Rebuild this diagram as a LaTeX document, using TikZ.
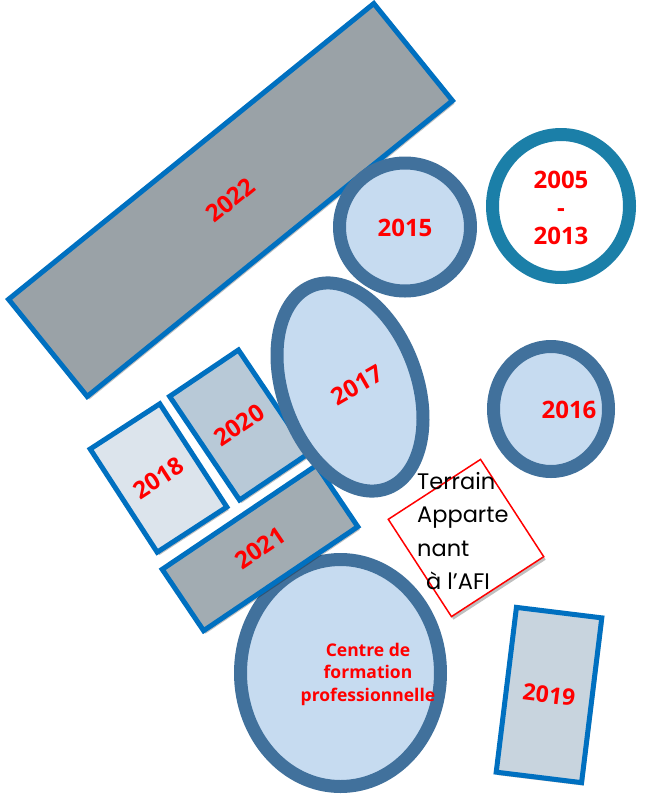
\documentclass[tikz,border=0pt]{standalone}
\usepackage{fontspec}
\setmainfont{Open Sans}
\newfontfamily\terrainfont{Poppins}
\usetikzlibrary{shapes.geometric,shadows}
\definecolor{rectblue}{HTML}{0070C0}
\definecolor{ringblue}{HTML}{41719C}
\definecolor{ringteal}{HTML}{1B7FA8}
\definecolor{circfill}{HTML}{C6DBF0}
\definecolor{fillA}{HTML}{9AA2A7}
\definecolor{fillB}{HTML}{DCE4EC}
\definecolor{fillC}{HTML}{B8C9D7}
\definecolor{fillD}{HTML}{A2ACB2}
\definecolor{fillE}{HTML}{C8D4DE}
\begin{document}
\begin{tikzpicture}[x=1pt,y=-1pt,
  softshadow/.style={drop shadow={shadow xshift=2pt,shadow yshift=-3pt,opacity=0.25,fill=black}},
  plot/.style={rectangle, draw=rectblue, line width=5pt, inner sep=0pt, text=red,
    font=\bfseries\fontsize{24}{28}\selectfont, softshadow},
  ring/.style={ellipse, draw=ringblue, line width=13pt, fill=circfill, inner sep=0pt, softshadow},
  yearlabel/.style={text=red, inner sep=0pt, font=\bfseries\fontsize{24}{28}\selectfont},
]
\useasboundingbox (0,0) rectangle (646,796);

% rectangles
\node[plot, fill=fillA, minimum width=470pt, minimum height=125pt, rotate=39] (p2022) at (230.5,200) {2022};
\node[plot, fill=fillB, minimum width=83pt, minimum height=123pt, rotate=33] (p2018) at (158.5,478) {2018};
\node[plot, fill=fillC, minimum width=83pt, minimum height=125pt, rotate=34] (p2020) at (239,425) {2020};

% centre de formation
\node[ring, minimum width=200pt, minimum height=227pt] (centre) at (340.5,673) {};
\node[yearlabel, align=center, font=\bfseries\fontsize{17.5}{22.5}\selectfont] (centrelab) at (368,674) {Centre de\\formation\\professionnelle};

\node[plot, fill=fillD, minimum width=186pt, minimum height=74pt, rotate=34] (p2021) at (260,548) {2021};

% circles
\node[ring, minimum width=131pt, minimum height=128pt] (c2015) at (405,227) {};
\node[yearlabel] (l2015) at (405,228) {2015};

\node[ring, draw=ringteal, fill=white, minimum width=137pt, minimum height=143pt] (c2005) at (561,206) {};
\node[yearlabel, align=center] (l2005) at (561,208) {2005\\-\\2013};

\node[ring, minimum width=134pt, minimum height=216pt, rotate=20] (c2017) at (350,387) {};
\node[yearlabel, rotate=30] (l2017) at (357,385) {2017};

\node[ring, minimum width=115pt, minimum height=125pt] (c2016) at (551,409) {};
\node[yearlabel] (l2016) at (569,410) {2016};

\node[plot, fill=fillE, minimum width=86pt, minimum height=166pt, rotate=-7,
  font=\bfseries\fontsize{23}{28}\selectfont] (p2019) at (549,695) {2019};

% terrain
\node[rectangle, draw=red, line width=1.5pt, fill=white, inner sep=0pt,
  minimum width=110pt, minimum height=116pt, rotate=33, softshadow] (terrain) at (466,538) {};
\node[anchor=north west, align=left, inner sep=0pt, text=black,
  font=\terrainfont\fontsize{22.5}{33.5}\selectfont] (terrainlab) at (417,472)
  {Terrain\\Apparte\\nant\\\hspace*{9pt}à l’AFI};
\end{tikzpicture}
\end{document}
